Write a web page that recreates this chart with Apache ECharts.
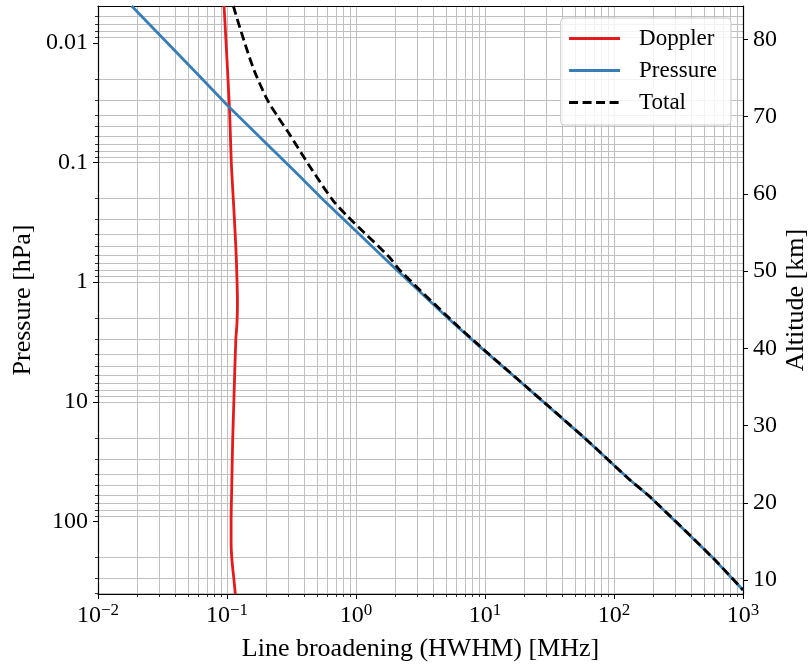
<!DOCTYPE html>
<html><head><meta charset="utf-8">
<script src="https://cdn.jsdelivr.net/npm/echarts@6/dist/echarts.min.js"></script>
<style>html,body{margin:0;padding:0;background:#fff}#c{width:811px;height:666px}</style>
</head><body><div id="c"></div>
<script>
// ---- data ----
const dopplerP = [0.00493, 0.0338, 0.1, 0.206, 0.5, 1, 1.5, 2.2, 3.05, 10, 20.8, 54.6, 100, 150, 190, 240, 300, 403];
const dopplerW = [0.0949, 0.1043, 0.108, 0.112, 0.117, 0.1197, 0.1205, 0.1195, 0.117, 0.113, 0.1107, 0.1087, 0.1076, 0.1076, 0.1085, 0.1105, 0.113, 0.116];
const pressureP = [0.00493, 0.0186, 0.0338, 0.126, 0.206, 0.792, 2.07, 3.47, 7.24, 20.8, 45, 62.1, 203, 373];
const pressureW = [0.01824, 0.0600, 0.1019, 0.355, 0.559, 2.07, 5.35, 9.15, 20.1, 61.4, 133, 190, 589, 1000];
const totalP = [0.00493, 0.00835, 0.0169, 0.0301, 0.041, 0.0571, 0.1086, 0.206, 0.284, 0.614, 0.792, 2.07, 3.47, 7.24, 20.8, 45, 62.1, 203, 373];
const totalW = [0.112, 0.130, 0.162, 0.206, 0.246, 0.302, 0.440, 0.660, 0.867, 1.80, 2.18, 5.47, 9.27, 20.2, 61.5, 133, 190, 589, 1000];

const seriesNames = ['Doppler', 'Pressure', 'Total'];

// ---- ticks ----
const xMajorTicks = [0.01, 0.1, 1, 10, 100, 1000];
const xTickExps = ['\u22122', '\u22121', '0', '1', '2', '3'];
const xMinorTicks = [0.02,0.03,0.04,0.05,0.06,0.07,0.08,0.09,
  0.2,0.3,0.4,0.5,0.6,0.7,0.8,0.9, 2,3,4,5,6,7,8,9,
  20,30,40,50,60,70,80,90, 200,300,400,500,600,700,800,900];
const yMajorTicks = [0.01, 0.1, 1, 10, 100];
const yTickLabels = ['0.01', '0.1', '1', '10', '100'];
const yMinorTicks = [0.006,0.007,0.008,0.009, 0.02,0.03,0.04,0.05,0.06,0.07,0.08,0.09,
  0.2,0.3,0.4,0.5,0.6,0.7,0.8,0.9, 2,3,4,5,6,7,8,9,
  20,30,40,50,60,70,80,90, 200,300,400];
const altTicks = [10, 20, 30, 40, 50, 60, 70, 80];
const altTickLabels = ['10', '20', '30', '40', '50', '60', '70', '80'];

const xMin = 0.01, xMax = 1000;
const pTop = 0.00493, pBottom = 403;
const altBottom = 8.2, altTop = 84.3;

const FONT = '"Liberation Serif", "DejaVu Serif", serif';
const GRID = '#c0c0c0';

function idxOf(arr, v) {
  let best = 0, bd = Infinity;
  arr.forEach((t, i) => { const d = Math.abs(Math.log10(t) - Math.log10(v)); if (d < bd) { bd = d; best = i; } });
  return best;
}

const chart = echarts.init(document.getElementById('c'), null, { renderer: 'canvas' });

const pairs = (w, p) => w.map((x, i) => [x, p[i]]);

const option = {
  animation: false,
  backgroundColor: '#fff',
  grid: { left: 98, right: 68, top: 6, bottom: 72, containLabel: false, outerBoundsMode: 'none' },
  legend: {
    orient: 'vertical', right: 80, top: 18, align: 'left',
    data: seriesNames,
    itemWidth: 51, itemHeight: 14, itemGap: 9,
    padding: [9, 14, 11, 7],
    itemStyle: { opacity: 0, color: 'rgba(0,0,0,0)', borderWidth: 0 },
    lineStyle: { width: 2.8 },
    backgroundColor: 'rgba(255,255,255,0.8)', borderColor: '#cccccc', borderWidth: 1, borderRadius: 4,
    textStyle: { fontFamily: FONT, fontSize: 23, color: '#000', padding: [0, 0, 0, 14] }
  },
  xAxis: [
    {
      type: 'log', logBase: 10, min: xMin, max: xMax, position: 'bottom',
      name: 'Line broadening (HWHM) [MHz]', nameLocation: 'middle', nameGap: 42, nameMoveOverlap: false,
      nameTextStyle: { fontFamily: FONT, fontSize: 26, color: '#000' },
      axisLine: { show: true, onZero: false, lineStyle: { color: '#000', width: 1.2 } },
      axisTick: { show: true, inside: false, length: 5, customValues: xMajorTicks, lineStyle: { color: '#000', width: 1 } },
      axisLabel: {
        show: true, customValues: xMajorTicks, margin: 8,
        formatter: v => '{b|10}{s|' + xTickExps[idxOf(xMajorTicks, v)] + '}',
        rich: {
          b: { fontFamily: FONT, fontSize: 24, color: '#000' },
          s: { fontFamily: FONT, fontSize: 17, color: '#000', padding: [0, 0, 10, 0] }
        }
      },
      splitLine: { show: true, showMinLine: false, showMaxLine: false, lineStyle: { color: GRID, width: 1 } },
      minorTick: { show: false }, minorSplitLine: { show: false }
    },
    {
      type: 'log', logBase: 10, min: xMin, max: xMax, position: 'bottom',
      axisLine: { show: false },
      axisTick: { show: true, inside: false, length: 3, customValues: xMinorTicks, lineStyle: { color: '#000', width: 0.8 } },
      axisLabel: { show: false },
      splitLine: { show: true, lineStyle: { color: GRID, width: 1 } }
    },
    {
      type: 'log', logBase: 10, min: xMin, max: xMax, position: 'top',
      axisLine: { show: true, onZero: false, lineStyle: { color: '#000', width: 1.2 } },
      axisTick: { show: false }, axisLabel: { show: false }, splitLine: { show: false }
    }
  ],
  yAxis: [
    {
      type: 'log', logBase: 10, inverse: true, min: pTop, max: pBottom, position: 'left',
      name: 'Pressure [hPa]', nameLocation: 'middle', nameRotate: 90, nameGap: 62, nameMoveOverlap: false,
      nameTextStyle: { fontFamily: FONT, fontSize: 26, color: '#000' },
      axisLine: { show: true, onZero: false, lineStyle: { color: '#000', width: 1.2 } },
      axisTick: { show: true, inside: false, length: 5, customValues: yMajorTicks, lineStyle: { color: '#000', width: 1 } },
      axisLabel: {
        show: true, customValues: yMajorTicks, margin: 10,
        fontFamily: FONT, fontSize: 24, color: '#000',
        formatter: v => yTickLabels[idxOf(yMajorTicks, v)]
      },
      splitLine: { show: true, showMinLine: false, showMaxLine: false, lineStyle: { color: GRID, width: 1 } }
    },
    {
      type: 'log', logBase: 10, inverse: true, min: pTop, max: pBottom, position: 'left',
      axisLine: { show: false },
      axisTick: { show: true, inside: false, length: 3, customValues: yMinorTicks, lineStyle: { color: '#000', width: 0.8 } },
      axisLabel: { show: false },
      splitLine: { show: true, lineStyle: { color: GRID, width: 1 } }
    },
    {
      type: 'value', min: altBottom, max: altTop, position: 'right',
      name: 'Altitude [km]', nameLocation: 'middle', nameRotate: 90, nameGap: 40, nameMoveOverlap: false,
      nameTextStyle: { fontFamily: FONT, fontSize: 26, color: '#000' },
      axisLine: { show: true, onZero: false, lineStyle: { color: '#000', width: 1.2 } },
      axisTick: { show: true, inside: false, length: 5, customValues: altTicks, lineStyle: { color: '#000', width: 1 } },
      axisLabel: {
        show: true, customValues: altTicks, margin: 10,
        fontFamily: FONT, fontSize: 24, color: '#000',
        formatter: v => altTickLabels[altTicks.indexOf(Math.round(v))]
      },
      splitLine: { show: false }
    }
  ],
  series: [
    {
      name: seriesNames[0], type: 'line', xAxisIndex: 0, yAxisIndex: 0,
      data: pairs(dopplerW, dopplerP), symbol: 'none', clip: true, z: 3, smooth: 0.3,
      lineStyle: { color: '#e41a1c', width: 2.8 }, itemStyle: { color: '#e41a1c' }
    },
    {
      name: seriesNames[1], type: 'line', xAxisIndex: 0, yAxisIndex: 0,
      data: pairs(pressureW, pressureP), symbol: 'none', clip: true, z: 4,
      lineStyle: { color: '#377eb8', width: 2.8 }, itemStyle: { color: '#377eb8' }
    },
    {
      name: seriesNames[2], type: 'line', xAxisIndex: 0, yAxisIndex: 0,
      data: pairs(totalW, totalP), symbol: 'none', clip: true, z: 5, smooth: 0.3,
      lineStyle: { color: '#000', width: 2.8, type: [9, 4.5] }, itemStyle: { color: '#000' }
    }
  ]
};
chart.setOption(option);
</script>
</body></html>
